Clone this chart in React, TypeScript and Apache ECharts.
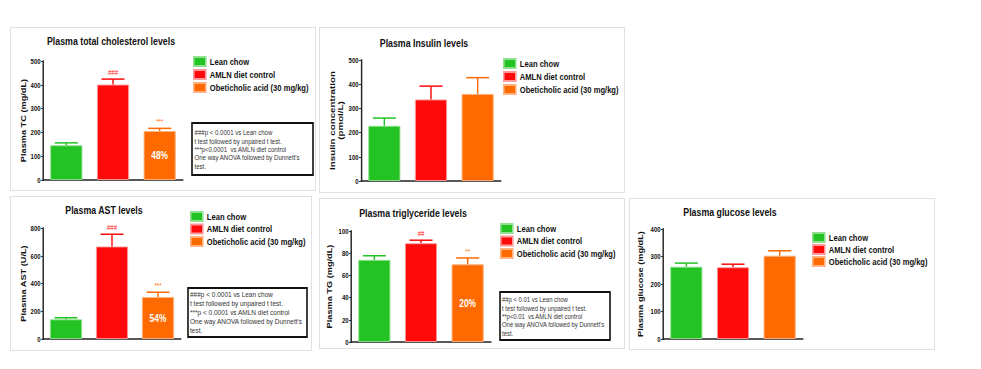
import React, { useEffect, useRef } from "react";
import * as echarts from "echarts";

const groups = ["Lean chow", "AMLN diet control", "Obeticholic acid (30 mg/kg)"];
const colors = ["#22c322", "#ff0a0a", "#ff6a00"];
const borders = ["#90e090", "#ff9a9a", "#ffb27f"];

const tcMean = [146, 401, 206];
const tcErr = [10, 23, 11];
const tcSig = ["", "###", "***"];
const tcPct = "48%";

const insMean = [228, 337, 360];
const insErr = [32, 55, 67];

const astMean = [142, 667, 303];
const astErr = [11, 88, 34];
const astSig = ["", "###", "***"];
const astPct = "54%";

const tgMean = [74, 89, 70];
const tgErr = [3.7, 2.7, 5.7];
const tgSig = ["", "##", "**"];
const tgPct = "20%";

const gluMean = [263, 261, 303];
const gluErr = [13, 11, 18];

const titles = [
  "Plasma total cholesterol levels",
  "Plasma Insulin levels",
  "Plasma AST levels",
  "Plasma triglyceride levels",
  "Plasma glucose levels",
];
const yNames = [
  "Plasma TC (mg/dL)",
  "Insulin concentration\n(pmol/L)",
  "Plasma AST (U/L)",
  "Plasma TG (mg/dL)",
  "Plasma glucose (mg/dL)",
];
const yMax = [500, 500, 800, 100, 400];
const yStep = [100, 100, 200, 20, 100];

const notes = [
  "###p < 0.0001 vs Lean chow\nt test followed by unpaired t test.\n***p<0.0001  vs AMLN diet control\nOne way ANOVA followed by Dunnett's\ntest.",
  "###p < 0.0001 vs Lean chow\nt test followed by unpaired t test.\n***p < 0.0001 vs AMLN diet control\nOne way ANOVA followed by Dunnett's\ntest.",
  "##p < 0.01 vs Lean chow\nt test followed by unpaired t test.\n**p<0.01  vs AMLN diet control\nOne way ANOVA followed by Dunnett's\ntest.",
];

const F = "'Liberation Sans', Arial, Helvetica, sans-serif";
// the whole figure is horizontally condensed
const SX = 0.8;
const W = Math.ceil(981 / SX);
const ix = (x: number) => x / SX;

// layout in screen pixels
const grids = [
  { left: 43, top: 61, width: 140, height: 119 },
  { left: 361, top: 60, width: 140, height: 121 },
  { left: 43, top: 228, width: 138, height: 111 },
  { left: 351, top: 231, width: 140, height: 111 },
  { left: 663, top: 229, width: 140, height: 110 },
];
const panelBoxes = [
  [10, 27, 305, 163],
  [319, 27, 305, 165],
  [10, 196, 301, 154],
  [319, 198, 305, 150],
  [629, 198, 305, 151],
];
const titlePos = [
  [111, 36],
  [424, 38],
  [104, 205],
  [413, 208],
  [730, 207],
];
const legendPos = [
  [193, 56],
  [503, 58],
  [190, 211],
  [500, 223],
  [812, 232],
];
const legendGap = [2, 2, 1.5, 1.5, 1];
const noteBoxes = [
  [192, 123, 121, 52],
  [188, 288, 119, 49],
  [500, 292, 110, 48],
];
// text left, first line centre, line height, font size
const noteText = [
  [194.5, 132.5, 8.4, 7.6],
  [190, 294.5, 9, 8.1],
  [502, 299.5, 8.4, 7.4],
];
const yNameGap = [19, 21, 20, 22, 23];

export default function App() {
  const ref = useRef<HTMLDivElement>(null);
  useEffect(() => {
    if (!ref.current) return;
    const chart = echarts.init(ref.current, null, { renderer: "svg" });
    const means = [tcMean, insMean, astMean, tgMean, gluMean];
    const errs = [tcErr, insErr, astErr, tgErr, gluErr];
    const sigs = [tcSig, ["", "", ""], astSig, tgSig, ["", "", ""]];
    const pcts = [tcPct, "", astPct, tgPct, ""];

    const series: any[] = [];
    means.forEach((m, p) => {
      groups.forEach((g, gi) => {
        const data: any[] = ["-", "-", "-"];
        const item: any = { value: m[gi] };
        if (gi === 2 && pcts[p]) {
          item.label = {
            show: true,
            position: "inside",
            formatter: pcts[p],
            color: "#fff",
            fontWeight: "bold",
            fontSize: 10.5,
            fontFamily: F,
          };
        }
        data[gi] = item;
        series.push({
          type: "bar",
          name: g,
          xAxisIndex: p,
          yAxisIndex: p,
          data,
          barWidth: ix(32),
          barGap: "-100%",
          itemStyle: { color: colors[gi], borderColor: borders[gi], borderWidth: 1 },
        });
      });
      const eData = m.map((v, i) => [i, v, errs[p][i]]);
      series.push({
        type: "custom",
        xAxisIndex: p,
        yAxisIndex: p,
        z: 5,
        data: eData,
        renderItem: (params: any, api: any) => {
          const i = params.dataIndex;
          const x = api.value(0);
          const mv = api.value(1);
          const ev = api.value(2);
          const b = api.coord([x, mv]);
          const t = api.coord([x, mv + ev]);
          const half = ix(11.5);
          const c = colors[i];
          const children: any[] = [
            { type: "line", shape: { x1: b[0], y1: b[1], x2: t[0], y2: t[1] }, style: { stroke: c, lineWidth: 1.8 } },
            { type: "line", shape: { x1: t[0] - half, y1: t[1], x2: t[0] + half, y2: t[1] }, style: { stroke: c, lineWidth: 1.5 } },
          ];
          const s = sigs[p][i];
          if (s) {
            children.push({
              type: "text",
              style: {
                text: s,
                x: t[0],
                y: t[1] - 3,
                align: "center",
                verticalAlign: "bottom",
                fill: c,
                font: `7.5px ${F}`,
              },
            });
          }
          return { type: "group", children };
        },
      });
    });

    const graphic: any[] = [];
    panelBoxes.forEach(([x, y, w, h]) => {
      graphic.push({
        type: "rect",
        z: -10,
        shape: { x: ix(x + 0.5), y: y + 0.5, width: ix(w), height: h },
        style: { fill: "none", stroke: "#e0e0e0", lineWidth: 1.2 },
      });
    });
    noteBoxes.forEach(([x, y, w, h], i) => {
      const [tx, tc, lh, fs] = noteText[i];
      graphic.push({
        type: "rect",
        shape: { x: ix(x), y, width: ix(w), height: h },
        style: { fill: "#fff", stroke: "#111", lineWidth: 2 },
      });
      graphic.push({
        type: "text",
        x: ix(tx),
        y: tc - lh / 2,
        style: {
          text: notes[i],
          fill: "#333",
          font: `${fs}px ${F}`,
          lineHeight: lh,
          verticalAlign: "top",
        },
      });
    });

    const option: any = {
      animation: false,
      backgroundColor: "#fff",
      title: titles.map((t, i) => ({
        text: t,
        left: ix(titlePos[i][0]),
        top: titlePos[i][1],
        textAlign: "center",
        padding: 0,
        textStyle: { fontFamily: F, fontWeight: "bold", fontSize: 11, color: "#111" },
      })),
      legend: legendPos.map(([x, y], i) => ({
        left: ix(x),
        top: y,
        orient: "vertical",
        data: groups,
        itemWidth: ix(12),
        itemHeight: 9,
        itemGap: legendGap[i],
        padding: 0,
        icon: "rect",
        selectedMode: false,
        textStyle: { fontFamily: F, fontWeight: "bold", fontSize: 9.5, lineHeight: 10, color: "#111" },
      })),
      grid: grids.map((g) => ({
        left: ix(g.left),
        top: g.top,
        width: ix(g.width),
        height: g.height,
        containLabel: false,
      })),
      xAxis: grids.map((_, i) => ({
        type: "category",
        gridIndex: i,
        data: ["", "", ""],
        axisLine: { lineStyle: { color: "#222", width: 1.5 } },
        axisTick: { alignWithLabel: true, length: 3, lineStyle: { color: "#222", width: 1.4 } },
        axisLabel: { show: false },
      })),
      yAxis: grids.map((_, i) => ({
        type: "value",
        gridIndex: i,
        min: 0,
        max: yMax[i],
        interval: yStep[i],
        name: yNames[i],
        nameLocation: "middle",
        nameGap: ix(yNameGap[i]) - 5,
        nameTextStyle: {
          fontFamily: F,
          fontWeight: "bold",
          fontSize: i === 1 ? 9.8 : 9.2,
          color: "#111",
          lineHeight: 10,
        },
        axisLine: { show: true, lineStyle: { color: "#222", width: 1.8 } },
        axisTick: { show: true, length: 2.5, lineStyle: { color: "#222" } },
        axisLabel: { fontFamily: F, fontWeight: "bold", fontSize: 7.5, color: "#111", margin: 3 },
        splitLine: { show: false },
      })),
      series,
      graphic,
    };
    chart.setOption(option);
    return () => chart.dispose();
  }, []);
  return (
    <div
      ref={ref}
      style={{
        position: "fixed",
        left: 0,
        top: 0,
        width: W,
        height: 369,
        transform: `scaleX(${SX})`,
        transformOrigin: "0 0",
      }}
    />
  );
}
